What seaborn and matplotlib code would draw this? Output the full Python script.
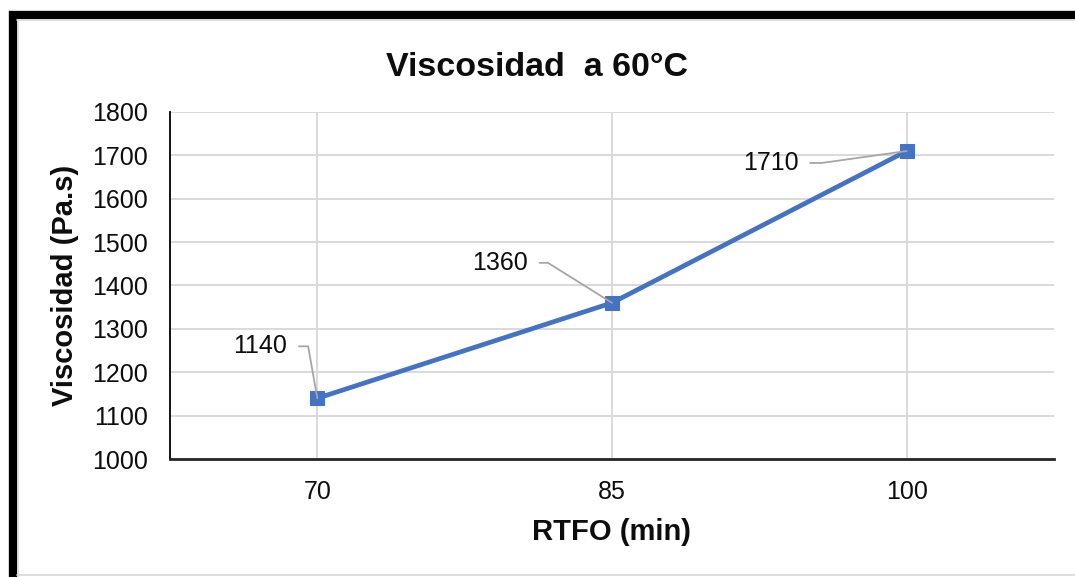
import matplotlib
matplotlib.use("Agg")
import matplotlib.pyplot as plt
from matplotlib.lines import Line2D
import pandas as pd
import seaborn as sns

# RTFO aging time (min) and viscosity at 60 °C (Pa.s)
rtfo_min = [70, 85, 100]
viscosity = [1140, 1360, 1710]
y_ticks = [1000, 1100, 1200, 1300, 1400, 1500, 1600, 1700, 1800]

df = pd.DataFrame({"RTFO (min)": rtfo_min, "Viscosidad (Pa.s)": viscosity})

sns.set_theme(style="white")
plt.rcParams["font.family"] = ["Liberation Sans", "DejaVu Sans"]

fig = plt.figure(figsize=(10.75, 5.77), dpi=100)
ax = fig.add_axes([0.1581, 0.2045, 0.8224, 0.6014])

blue = "#4472C4"
text_color = "#0d0d0d"
sns.lineplot(data=df, x="RTFO (min)", y="Viscosidad (Pa.s)", ax=ax,
             color=blue, linewidth=3.4, marker="s", markersize=10,
             markeredgecolor=blue, zorder=4)

ax.set_xlim(62.5, 107.5)
ax.set_ylim(1000, 1800)
ax.set_xticks(rtfo_min)
ax.set_yticks(y_ticks)
ax.grid(True, color="#d9d9d9", linewidth=1.4, zorder=0)
ax.set_axisbelow(True)

for side in ("top", "right"):
    ax.spines[side].set_visible(False)
ax.spines["left"].set_color("black")
ax.spines["left"].set_linewidth(1.3)
ax.spines["bottom"].set_color("#262626")
ax.spines["bottom"].set_linewidth(2.0)

ax.tick_params(axis="both", length=0, labelsize=18, colors=text_color)
ax.tick_params(axis="y", pad=16)
ax.tick_params(axis="x", pad=15)

ax.set_xlabel("RTFO (min)", fontsize=21, fontweight="bold", labelpad=10,
              color=text_color)
ax.set_ylabel("Viscosidad (Pa.s)", fontsize=21, fontweight="bold", labelpad=9,
              color=text_color)
fig.text(0.5, 1 - 67 / 577, "Viscosidad  a 60°C", fontsize=24.5, fontweight="bold",
         ha="center", va="center", color=text_color)

# Data labels with leader lines
label_offsets = [(-21.6, 37.4), (-60.5, 28.8), (-77.8, -8.6)]
leader_angles = [100, 148, 188]
for x, y, off, ang in zip(rtfo_min, viscosity, label_offsets, leader_angles):
    ax.annotate(f"{y}", xy=(x, y), xytext=off, textcoords="offset points",
                ha="right", va="center", fontsize=18, color=text_color,
                arrowprops=dict(arrowstyle="-", color="#a6a6a6", lw=1.3,
                                relpos=(1, 0.5), shrinkA=6, shrinkB=0,
                                connectionstyle=f"angle,angleA=0,angleB={ang},rad=0"),
                zorder=5)

# Frame around the chart area
fig.add_artist(Line2D([0.0084, 1.0], [1 - 15 / 577, 1 - 15 / 577], color="black",
                      linewidth=6, solid_capstyle="butt"))
fig.add_artist(Line2D([13 / 1075, 13 / 1075], [1 - 11 / 577, 0.0], color="black",
                      linewidth=6, solid_capstyle="butt"))
fig.add_artist(Line2D([17 / 1075, 1.0], [1 - 20 / 577, 1 - 20 / 577], color="#d9d9d9",
                      linewidth=1.2))
fig.add_artist(Line2D([18 / 1075, 18 / 1075], [1 - 20 / 577, 0.0], color="#d9d9d9",
                      linewidth=1.2))
fig.add_artist(Line2D([17 / 1075, 1.0], [2 / 577, 2 / 577], color="#d9d9d9",
                      linewidth=1.2))

fig.savefig("out.png", dpi=100)
